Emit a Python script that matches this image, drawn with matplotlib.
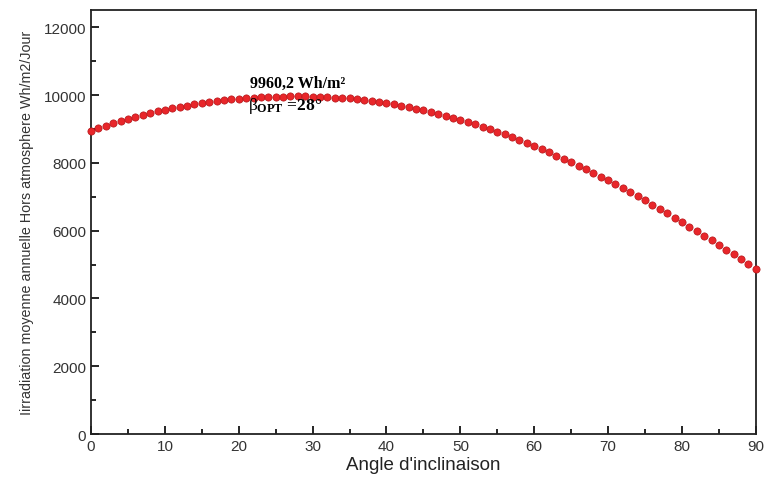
import numpy as np
import matplotlib.pyplot as plt
from matplotlib.ticker import MultipleLocator

plt.rcParams['font.family'] = ['Liberation Sans', 'DejaVu Sans']
plt.rcParams['mathtext.fontset'] = 'custom'
plt.rcParams['mathtext.rm'] = 'Liberation Serif'
plt.rcParams['mathtext.it'] = 'Liberation Serif:italic'
plt.rcParams['mathtext.bf'] = 'Liberation Serif:bold'

# angle d'inclinaison (degres)
angle = np.arange(0, 91)
# irradiation moyenne annuelle hors atmosphere (Wh/m2/jour)
irradiation = [
    8950, 9025, 9095, 9165, 9235, 9300, 9360, 9415, 9468, 9515,
    9560, 9603, 9645, 9685, 9722, 9760, 9792, 9820, 9846, 9870,
    9890, 9908, 9922, 9935, 9944, 9950, 9955, 9958, 9960, 9958,
    9955, 9948, 9938, 9925, 9912, 9900, 9875, 9850, 9822, 9792,
    9760, 9722, 9682, 9640, 9596, 9550, 9496, 9440, 9385, 9328,
    9270, 9204, 9136, 9066, 8994, 8920, 8840, 8758, 8674, 8588,
    8500, 8406, 8310, 8213, 8116, 8020, 7914, 7806, 7698, 7590,
    7480, 7364, 7247, 7130, 7010, 6890, 6765, 6638, 6510, 6380,
    6250, 6118, 5985, 5850, 5715, 5580, 5440, 5300, 5158, 5015,
    4870,
]

fig = plt.figure(figsize=(7.65, 4.81), dpi=100)
ax = fig.add_axes([0.119, 0.0956, 0.869, 0.881])

ax.plot(angle, irradiation, 'o', color='#e8262a', markeredgecolor='#b51518',
        markeredgewidth=0.5, markersize=5.2, clip_on=False, zorder=3)

ax.set_xlim(0, 90)
ax.set_ylim(0, 12500)
ax.xaxis.set_major_locator(MultipleLocator(10))
ax.xaxis.set_minor_locator(MultipleLocator(5))
ax.yaxis.set_major_locator(MultipleLocator(2000))
ax.yaxis.set_minor_locator(MultipleLocator(1000))
ax.tick_params(which='both', direction='in', top=False, right=False, labelsize=11,
               width=1.2, labelcolor='#333333')
ax.tick_params(which='major', length=6)
ax.tick_params(which='minor', length=3.5)
for s in ax.spines.values():
    s.set_linewidth(1.3)
    s.set_color('#222222')

ax.set_xlabel("Angle d'inclinaison", fontsize=13.5, labelpad=2, color='#222222')
ax.set_ylabel("Iirradiation moyenne annuelle Hors atmosphere Wh/m2/Jour", fontsize=10.3,
              labelpad=7, color='#333333')

ax.text(21.5, 10350, '9960,2 Wh/m²', fontsize=11.5, fontweight='bold',
        family='Liberation Serif', ha='left', va='center')
ax.text(21.2, 9700, r'$\mathrm{\beta}_{\mathbf{OPT}}$ =28°', fontsize=12.5, fontweight='bold',
        family='Liberation Serif', ha='left', va='center')

fig.savefig('out.png', dpi=100)
